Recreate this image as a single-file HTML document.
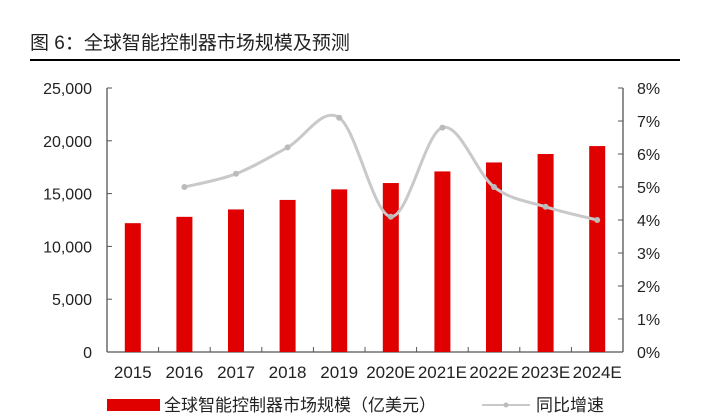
<!DOCTYPE html>
<html><head><meta charset="utf-8"><style>
body{margin:0;background:#fff;}
svg{display:block;font-family:"Liberation Sans","Noto Sans CJK SC",sans-serif;}
</style></head><body>
<svg width="701" height="420">
<text x="30" y="49" font-size="19" fill="#222">图 6：全球智能控制器市场规模及预测</text>
<rect x="30" y="59" width="650" height="2" fill="#000"/>
<g id="g"></g>
</svg>
<script>
const categories=["2015","2016","2017","2018","2019","2020E","2021E","2022E","2023E","2024E"];
const marketSize=[12200,12800,13500,14400,15400,16000,17100,17950,18750,19500];
const growth=[null,5.0,5.4,6.2,7.1,4.1,6.8,5.0,4.4,4.0];
const leftTicks=[0,5000,10000,15000,20000,25000];
const rightTicks=[0,1,2,3,4,5,6,7,8];
const NS="http://www.w3.org/2000/svg";
const g=document.getElementById('g');
const X0=107,X1=623,Y0=352,Y1=88;
const band=(X1-X0)/categories.length;
const xc=i=>X0+band*(i+0.5);
const yL=v=>Y0-(v/25000)*(Y0-Y1);
const yR=v=>Y0-(v/8)*(Y0-Y1);
function mk(t,a,p){const e=document.createElementNS(NS,t);for(const k in a)e.setAttribute(k,a[k]);(p||g).appendChild(e);return e;}
let e=mk('line',{x1:X0,y1:Y1,x2:X0,y2:Y0,stroke:'#555','stroke-width':1.3});


e=mk('line',{x1:X1,y1:Y1,x2:X1,y2:Y0,stroke:'#555','stroke-width':1.3});


e=mk('line',{x1:X0,y1:Y0,x2:X1,y2:Y0,stroke:'#555','stroke-width':1.3});


leftTicks.forEach(v=>{
 mk('line',{x1:X0,y1:yL(v),x2:X0+5,y2:yL(v),stroke:'#555'});
 const t=mk('text',{x:92,y:yL(v)+6,'font-size':16,'text-anchor':'end',fill:'#222'});
 t.textContent=v.toLocaleString('en-US');
 
 
});
rightTicks.forEach(v=>{
 mk('line',{x1:X1-5,y1:yR(v),x2:X1,y2:yR(v),stroke:'#555'});
 const t=mk('text',{x:637,y:yR(v)+6,'font-size':16,fill:'#222'});
 t.textContent=v+'%';
 
 
});
for(let i=1;i<categories.length;i++)mk('line',{x1:X0+band*i,y1:Y0,x2:X0+band*i,y2:Y0-5,stroke:'#555'});
categories.forEach((c,i)=>{
 const r=mk('rect',{x:xc(i)-8,y:yL(marketSize[i]),width:16,height:Y0-yL(marketSize[i]),fill:'#e00000'});
 
 
 const t=mk('text',{x:xc(i),y:378,'font-size':17,'text-anchor':'middle',fill:'#222'});
 t.textContent=c;
 
 
});
const pts=[];growth.forEach((v,i)=>{if(v!=null)pts.push([xc(i),yR(v)]);});
let d='M'+pts[0][0]+','+pts[0][1];
for(let i=0;i<pts.length-1;i++){
 const p0=pts[Math.max(0,i-1)],p1=pts[i],p2=pts[i+1],p3=pts[Math.min(pts.length-1,i+2)];
 const c1=[p1[0]+(p2[0]-p0[0])/6,p1[1]+(p2[1]-p0[1])/6],c2=[p2[0]-(p3[0]-p1[0])/6,p2[1]-(p3[1]-p1[1])/6];
 d+=` C${c1[0]},${c1[1]} ${c2[0]},${c2[1]} ${p2[0]},${p2[1]}`;
}
e=mk('path',{d:d,fill:'none',stroke:'#c9c9c9','stroke-width':3});


pts.forEach(p=>{
 const c=mk('circle',{cx:p[0],cy:p[1],r:3,fill:'#bbb'});
 
 
});
e=mk('rect',{x:107,y:399,width:53,height:12,fill:'#e00000'});


e=mk('text',{x:164,y:411,'font-size':17,fill:'#222'});
e.textContent='全球智能控制器市场规模（亿美元）';


e=mk('line',{x1:482,y1:405,x2:530,y2:405,stroke:'#c9c9c9','stroke-width':2});


mk('circle',{cx:506,cy:405,r:2.5,fill:'#bbb'});
e=mk('text',{x:536,y:411,'font-size':17,fill:'#222'});
e.textContent='同比增速';


</script>
</body></html>
